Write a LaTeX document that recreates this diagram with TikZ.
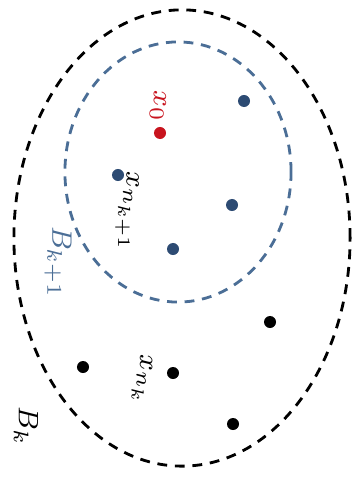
\documentclass[tikz,border=0pt]{standalone}
\usepackage{amsmath}
\usepackage{tikz}
\usetikzlibrary{positioning}
\definecolor{ptred}{RGB}{200,20,30}
\definecolor{ptblue}{RGB}{45,75,115}
\definecolor{ballblue}{RGB}{75,110,150}

\begin{document}
\begin{tikzpicture}[
            x=0.01cm, y=-0.01cm,
            dot/.style={circle, fill, inner sep=0pt, minimum size=0.12cm},
            lbl/.style={rotate=-90, inner sep=1pt, font=\fontsize{8.5}{10}\selectfont},
            ball/.style={dash pattern=on 2.8pt off 2.2pt, line width=0.8pt}
        ]
            \useasboundingbox (0,0) rectangle (356,479);
            % balls
            \draw[ball] (182,238) ellipse [x radius=1.68cm, y radius=2.28cm];
            \draw[ball, ballblue] (178,172) ellipse [x radius=1.13cm, y radius=1.30cm];
            % points of B_{k+1}
            \node[dot, ptred] (x0) at (160,133) {};
            \node[dot, ptblue] (y1) at (244,101) {};
            \node[dot, ptblue] (y2) at (118,175) {};
            \node[dot, ptblue] (y3) at (232,205) {};
            \node[dot, ptblue] (y4) at (173,249) {};
            % points of B_k
            \node[dot] (z1) at (270,322) {};
            \node[dot] (z2) at (83,367) {};
            \node[dot] (z3) at (173,373) {};
            \node[dot] (z4) at (233,424) {};
            % labels
            \node[lbl, ptred] (lx0) at (158,106) {$x_0$};
            \node[lbl] (ly2) at (127,212) {$x_{n_{k+1}}$};
            \node[lbl, ballblue] (lbk1) at (58,262) {$B_{k+1}$};
            \node[lbl] (lz3) at (142,380) {$x_{n_k}$};
            \node[lbl] (lbk) at (26,426) {$B_k$};
        \end{tikzpicture}
\end{document}
